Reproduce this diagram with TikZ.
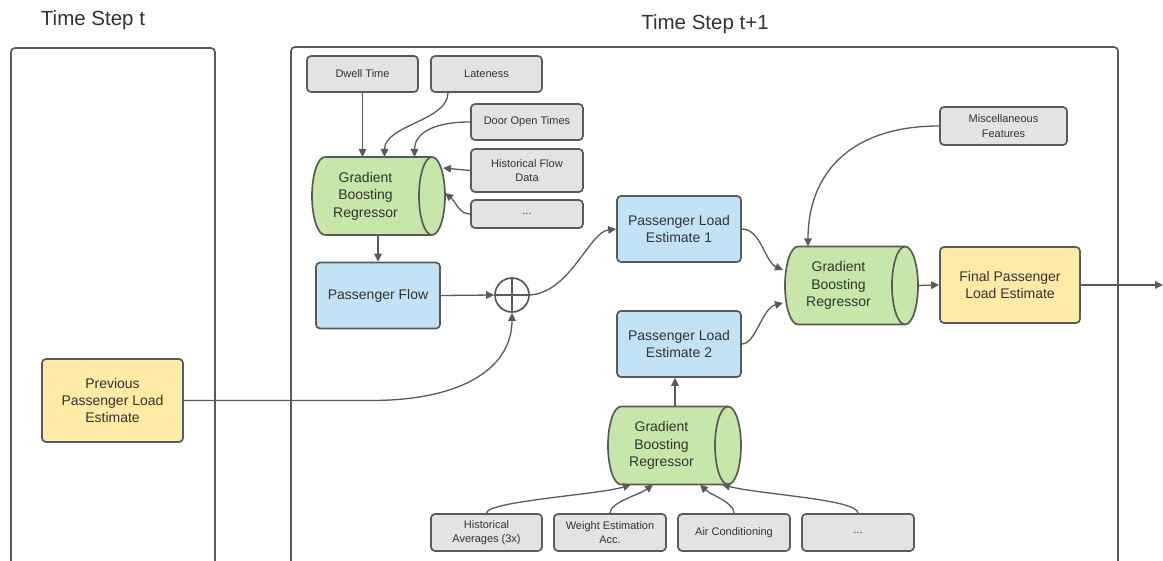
\documentclass[tikz,border=0pt]{standalone}
\usepackage{fontspec}
\setmainfont{Liberation Sans}
\usetikzlibrary{arrows.meta,backgrounds}
\definecolor{ln}{HTML}{5A5A5A}
\definecolor{gfill}{HTML}{E3E3E3}
\definecolor{bfill}{HTML}{C2E3F5}
\definecolor{cfill}{HTML}{C7E6AA}
\definecolor{yfill}{HTML}{FFEBA6}
\definecolor{txt}{HTML}{333333}
\tikzset{
 box/.style={rectangle, rounded corners=4pt, draw=ln, line width=1.7pt, inner sep=0pt, align=center, text=txt},
 feat/.style={box, fill=gfill, font=\fontsize{11}{14.5}\selectfont},
 est/.style={box, fill=bfill, font=\fontsize{14}{17}\selectfont, minimum width=124pt, minimum height=66pt},
 yel/.style={box, fill=yfill, font=\fontsize{14}{17}\selectfont},
 cyl/.style={rectangle, inner sep=0pt, outer sep=0pt, minimum width=107pt, minimum height=78pt, align=center, text=txt, font=\fontsize{14}{17.5}\selectfont},
 cylline/.style={draw=ln, line width=1.7pt, fill=cfill},
 conn/.style={draw=ln, line width=1.3pt, -{Triangle[length=8pt,width=7.5pt]}},
 frame/.style={draw=ln, line width=1.7pt, rounded corners=4pt},
 title/.style={text=txt, font=\fontsize{20.5}{24}\selectfont, anchor=base},
 oplus/.style={circle, draw=ln, line width=1.7pt, minimum size=34pt, inner sep=0pt,
   path picture={\draw[ln,line width=1.7pt] (path picture bounding box.north) -- (path picture bounding box.south) (path picture bounding box.west) -- (path picture bounding box.east);}},
}
\newcommand\drawcyl[1]{%
 \begin{scope}[on background layer]
 \path[cylline] ([xshift=13pt]#1.north west) -- ([xshift=13pt]#1.north east) arc[start angle=90,end angle=-90,x radius=13pt,y radius=39pt] -- ([xshift=13pt]#1.south west) arc[start angle=270,end angle=90,x radius=13pt,y radius=39pt] -- cycle;
 \draw[draw=ln,line width=1.7pt] ([xshift=13pt]#1.north east) arc[start angle=90,end angle=270,x radius=13pt,y radius=39pt];
 \end{scope}}
\begin{document}
\begin{tikzpicture}[x=1pt,y=-1pt]
\useasboundingbox (0,0) rectangle (1163,561);
% frames
\draw[frame] (11,566) -- (11,48) -- (215,48) -- (215,566);
\draw[frame] (291,566) -- (291,47) -- (1118,47) -- (1118,566);
\node[title] (t1) at (93,26) {Time Step t};
\node[title] (t2) at (705,30) {Time Step t+1};
% features top
\node[feat, minimum width=111pt, minimum height=36pt] (dwell) at (362.5,74) {Dwell Time};
\node[feat, minimum width=111pt, minimum height=36pt] (late) at (486.5,74) {Lateness};
\node[feat, minimum width=112pt, minimum height=36pt] (door) at (527,122) {Door Open Times};
\node[feat, minimum width=112pt, minimum height=43pt] (hfd) at (527,170.5) {Historical Flow\\Data};
\node[feat, minimum width=112pt, minimum height=28pt] (dots1) at (527,214) {...};
\node[cyl] (gbr1) at (365.5,196) {Gradient\\Boosting\\Regressor};
\drawcyl{gbr1}
\node[est] (pf) at (378,295.5) {Passenger Flow};
\node[oplus] (plus) at (512,295) {};
\node[est] (ple1) at (679,229) {Passenger Load\\Estimate 1};
\node[est] (ple2) at (679,344) {Passenger Load\\Estimate 2};
\node[cyl] (gbr2) at (838.5,285.5) {Gradient\\Boosting\\Regressor};
\drawcyl{gbr2}
\node[yel, minimum width=140pt, minimum height=76pt] (final) at (1010,285) {Final Passenger\\Load Estimate};
\node[feat, minimum width=127pt, minimum height=38pt] (misc) at (1003.5,126) {Miscellaneous\\Features};
\node[cyl] (gbr3) at (661.5,445.5) {Gradient\\Boosting\\Regressor};
\drawcyl{gbr3}
\node[yel, minimum width=141pt, minimum height=83pt] (prev) at (112.5,400.5) {Previous\\Passenger Load\\Estimate};
\node[feat, minimum width=111pt, minimum height=37pt] (hist) at (486.5,532.5) {Historical\\Averages (3x)};
\node[feat, minimum width=112pt, minimum height=37pt] (wea) at (610,532.5) {Weight Estimation\\Acc.};
\node[feat, minimum width=112pt, minimum height=37pt] (air) at (734,532.5) {Air Conditioning};
\node[feat, minimum width=112pt, minimum height=37pt] (dots2) at (858,532.5) {...};
% connectors
\draw[conn] (dwell.south) -- (dwell.south |- gbr1.north);
\draw[conn] ([xshift=-38.5pt]late.south) .. controls +(0,28) and +(0,-32) .. ([xshift=19pt]gbr1.north);
\draw[conn] (door.west) .. controls +(-40,0) and +(0,-22) .. ([xshift=49pt]gbr1.north);
\draw[conn] (hfd.west) -- ([xshift=24pt,yshift=28pt]gbr1.east);
\draw[conn] (dots1.west) .. controls +(-11,0) and +(11,9) .. ([xshift=26pt,yshift=3pt]gbr1.east);
\draw[conn] (pf.north |- gbr1.south) -- (pf.north);
\draw[conn] (pf.east) -- (plus.west);
\draw[conn] (plus.east) .. controls +(41,-3) and +(-27,3) .. (ple1.west);
\draw[conn] (prev.east) -- ++(187,0) .. controls +(95,0) and +(0,53) .. (plus.south);
\draw[conn] (ple1.east) .. controls +(19,0) and +(-18,-8) .. ([xshift=-2pt,yshift=15.5pt]gbr2.west);
\draw[conn] (ple2.east) .. controls +(14,0) and +(-21,5) .. ([xshift=-2pt,yshift=-17.5pt]gbr2.west);
\draw[conn] (misc.west) .. controls +(-90,0) and +(0,-72) .. ([xshift=-30.5pt]gbr2.north);
\draw[conn] ([xshift=26pt]gbr2.east) -- (final.west);
\coordinate (outend) at (1163,285);
\draw[conn] (final.east) -- (outend);
\coordinate (g3top) at ([xshift=13.5pt]gbr3.north);
\draw[conn] (g3top) -- (g3top |- ple2.south);
\draw[conn] (hist.north) .. controls +(0,-12) and +(-30,10) .. ([xshift=-30.5pt]gbr3.south);
\draw[conn] (wea.north) .. controls +(0,-11) and +(-13,10) .. ([xshift=-8.5pt]gbr3.south);
\draw[conn] (air.north) .. controls +(0,-11) and +(10,10) .. ([xshift=38.5pt]gbr3.south);
\draw[conn] (dots2.north) .. controls +(0,-14) and +(37,10) .. ([xshift=60.5pt]gbr3.south);
\end{tikzpicture}
\end{document}
